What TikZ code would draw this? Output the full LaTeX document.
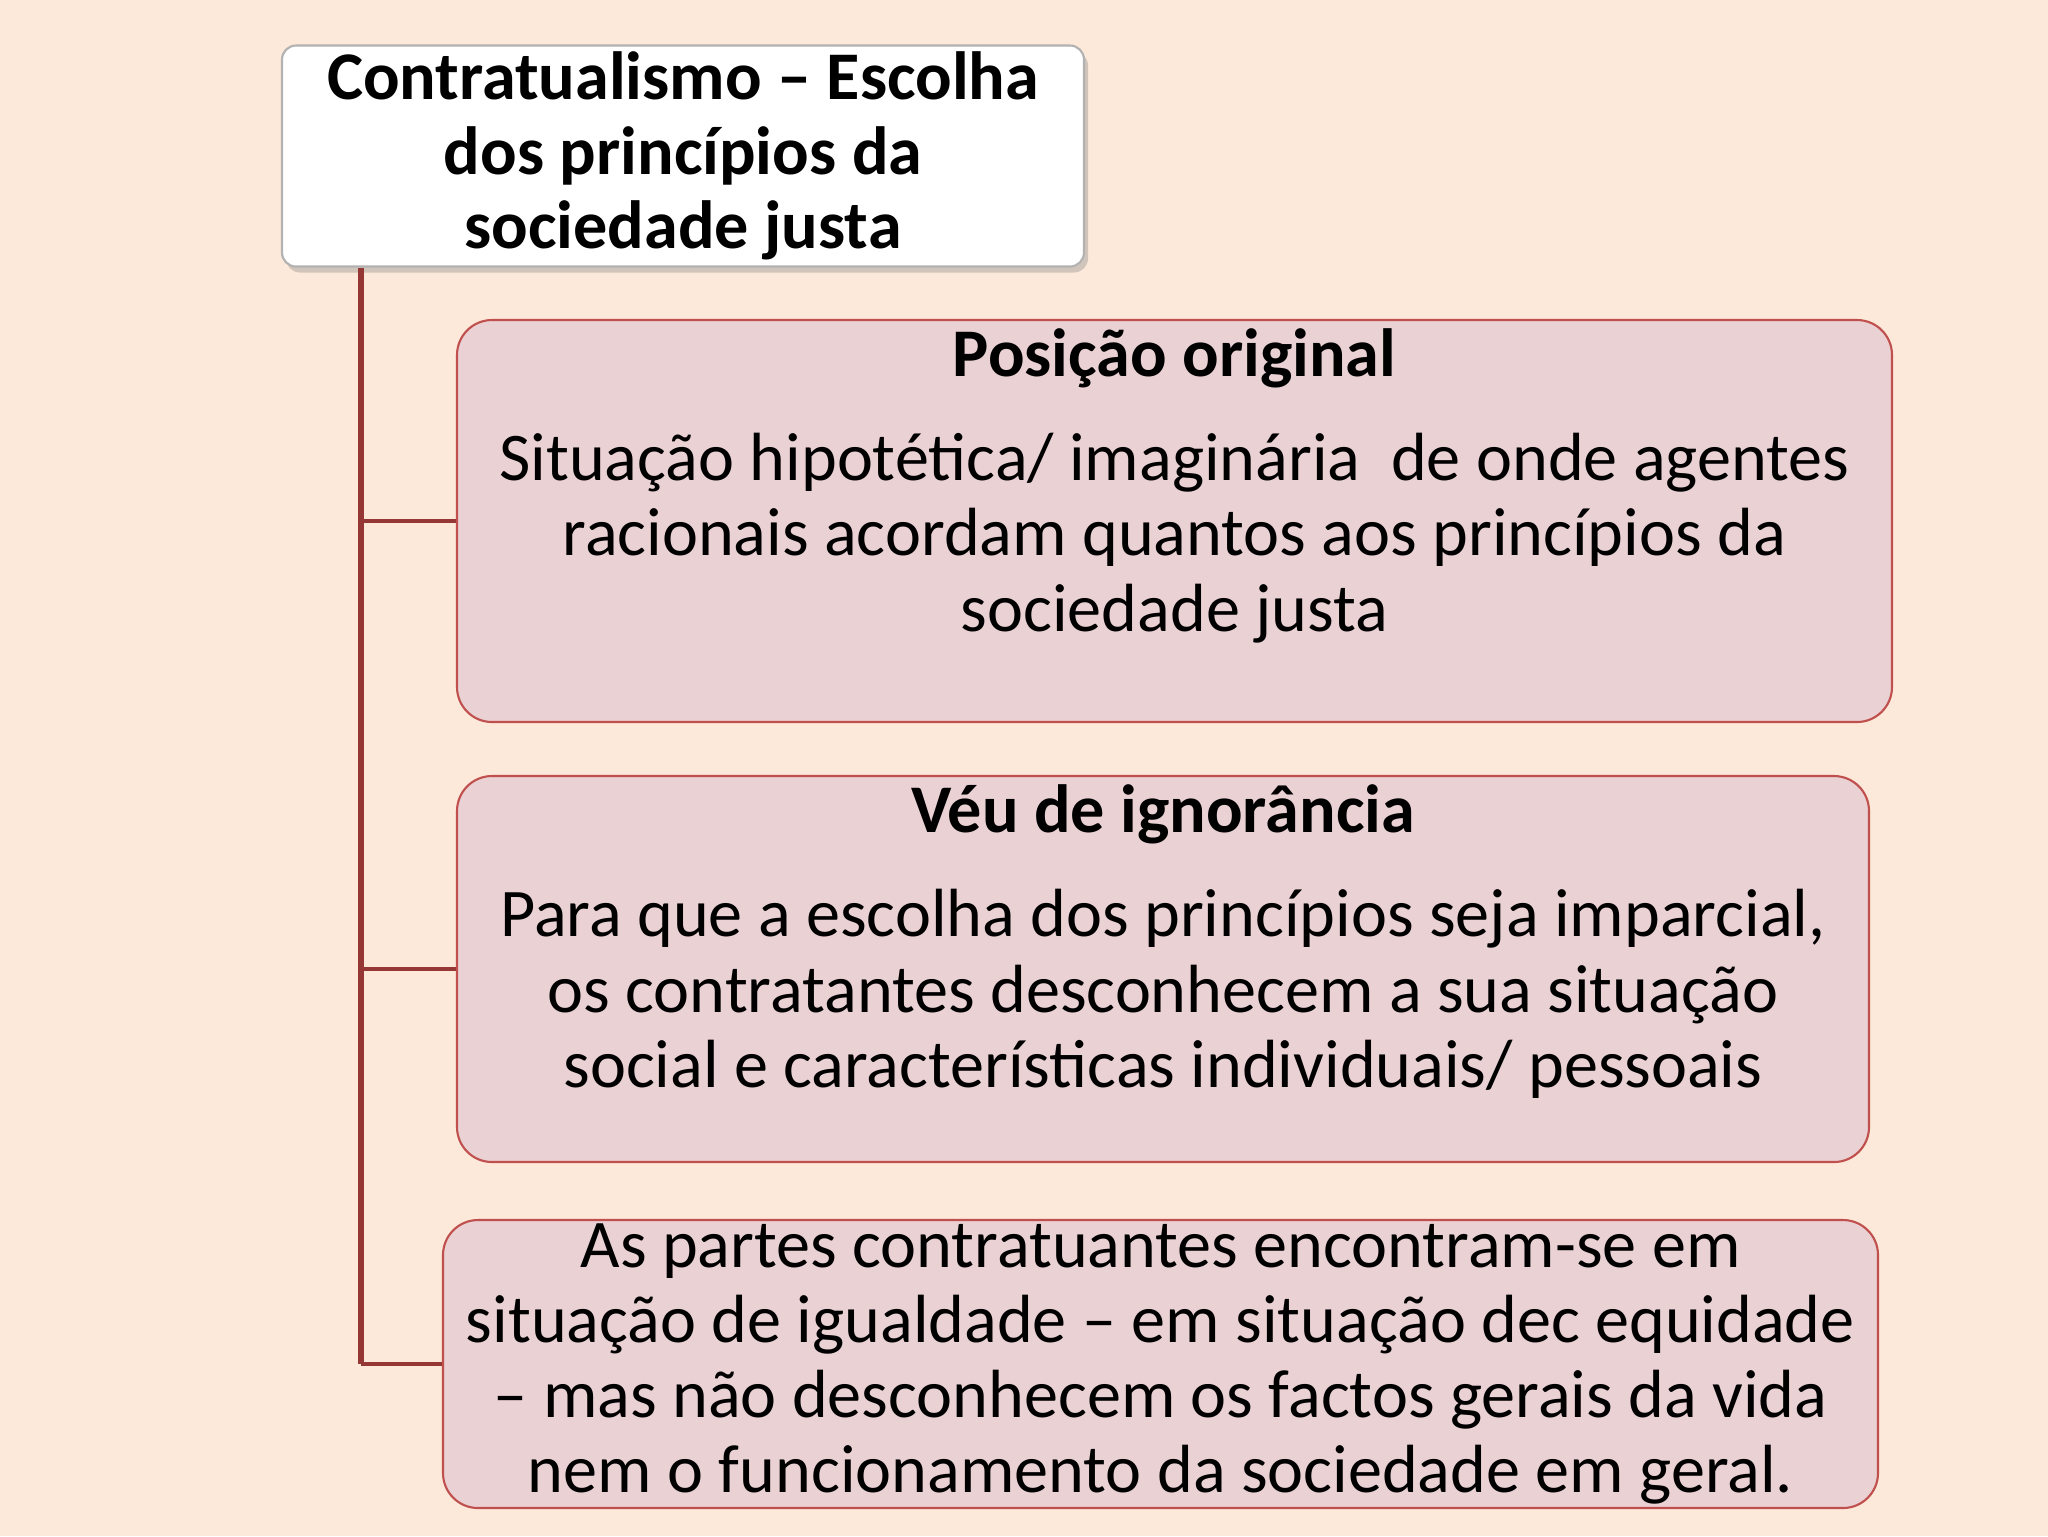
\documentclass[tikz,border=0pt]{standalone}
\usepackage{fontspec}
\setmainfont{Carlito}
\usetikzlibrary{calc, positioning, shadows}
\definecolor{bg}{HTML}{FDE9DA}
\definecolor{boxfill}{HTML}{EAD1D4}
\definecolor{boxline}{HTML}{C0504D}
\definecolor{linkred}{HTML}{953735}

\begin{document}
\begin{tikzpicture}
  [x=0.1mm, y=-0.1mm,
   every node/.style = {
     align=center, inner sep=0pt, text centered,
     font=\fontsize{19.4}{21.4}\selectfont},
   title/.style = {
     rectangle, rounded corners=1.4mm, fill=white, draw=gray!60, line width=0.6pt,
     drop shadow={opacity=0.35, shadow xshift=0.4mm, shadow yshift=-0.6mm},
     minimum width=80.2mm, minimum height=22.1mm,
     font=\fontsize{19.4}{21.2}\selectfont\bfseries},
   card/.style = {rectangle, rounded corners=3.5mm, fill=boxfill, draw=boxline, line width=0.6pt},
   head/.style = {font=\fontsize{19.4}{21.4}\selectfont\bfseries},
   trunk/.style = {draw=linkred, line width=1.7pt},
   branch/.style = {draw=linkred, line width=1pt}
  ]
  \fill[bg] (0,0) rectangle (2048,1536);
  \useasboundingbox (0,0) rectangle (2048,1536);

  \node[title] (top) at (683,156) {Contratualismo – Escolha\\dos princípios da\\sociedade justa};

  \node[card, minimum width=143.5mm, minimum height=40.2mm] (pos) at (1174.5,521) {};
  \node[head] (posHead) at ($(pos.north)+(0,39)$) {Posição original};
  \node (posText) at ($(pos.north)+(0,219)$)
    {Situação hipotética/ imaginária~ de onde agentes\\racionais acordam quantos aos princípios da\\sociedade justa};

  \node[card, minimum width=141.2mm, minimum height=38.6mm] (veil) at (1163,969) {};
  \node[head] (veilHead) at ($(veil.north)+(0,39)$) {Véu de ignorância};
  \node (veilText) at ($(veil.north)+(0,219)$)
    {Para que a escolha dos princípios seja imparcial,\\os contratantes desconhecem a sua situação\\social e características individuais/ pessoais};

  \node[card, minimum width=143.5mm, minimum height=28.8mm] (equal) at (1160.5,1364)
    {As partes contratuantes encontram-se em\\situação de igualdade – em situação dec equidade\\– mas não desconhecem os factos gerais da vida\\nem o funcionamento da sociedade em geral.};

  \coordinate (root) at ($(top.south west)+(80,0)$);
  \draw[trunk] (root) -- (root |- equal.west);
  \draw[branch] (root |- pos.west) -- (pos.west);
  \draw[branch] (root |- veil.west) -- (veil.west);
  \draw[branch] (root |- equal.west) -- (equal.west);
\end{tikzpicture}
\end{document}
